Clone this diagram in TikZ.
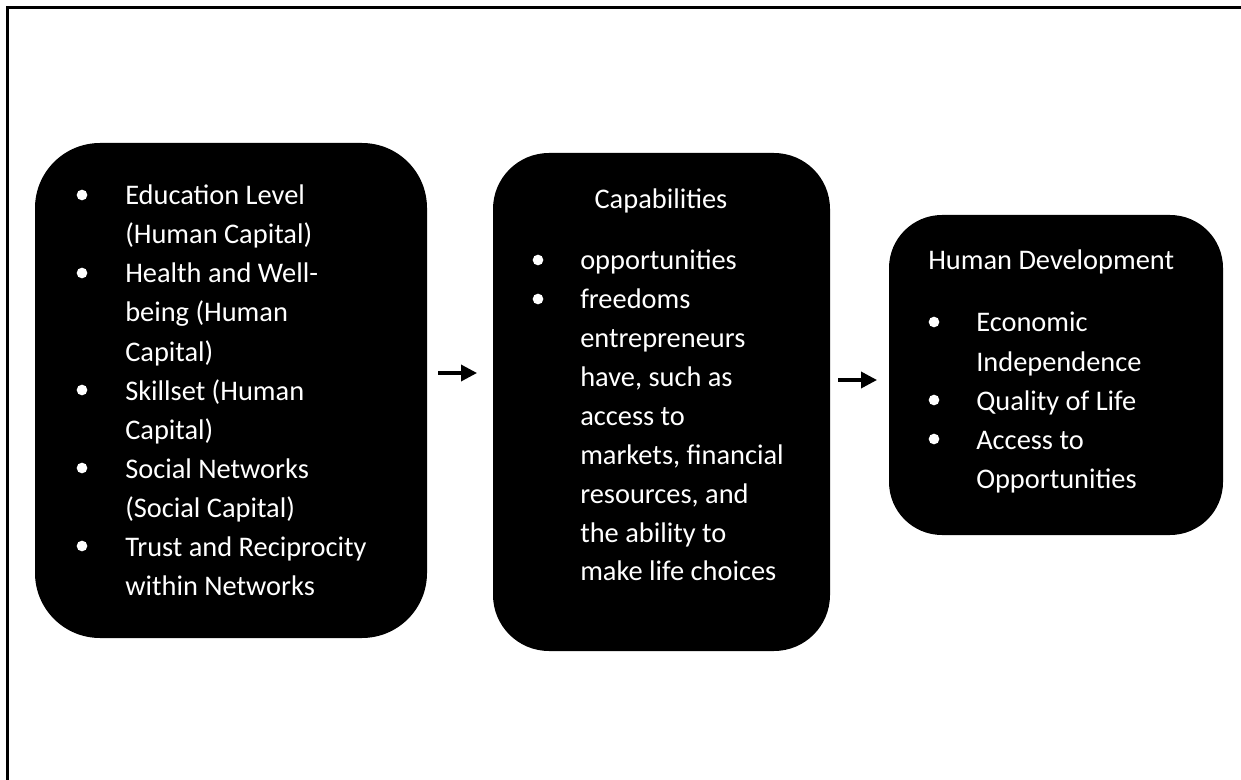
\documentclass[tikz,border=0pt]{standalone}
\usepackage{fontspec}
\setmainfont{Carlito}
\usetikzlibrary{arrows.meta}
\begin{document}
\begin{tikzpicture}[x=0.75pt,y=-0.75pt,
  box/.style={rectangle, fill=black, draw=none, inner sep=0pt},
  txt/.style={anchor=base west, inner sep=0pt, text=white, font=\fontsize{21.3}{25}\selectfont},
  ttl/.style={anchor=base, inner sep=0pt, text=white, font=\fontsize{21.3}{25}\selectfont},
  dot/.style={circle, fill=white, draw=none, inner sep=0pt, minimum size=8pt},
  conn/.style={line width=2.6pt, -{Triangle[length=12pt,width=12pt]}},
  frame/.style={line width=1.6pt}]
\useasboundingbox (0,0) rectangle (1241,780);
% frame
\coordinate (fTR) at (1241,7.5);
\coordinate (fTL) at (7.5,7.5);
\coordinate (fBL) at (7.5,780);
\draw[frame] (fTR) -- (fTL) -- (fBL);

% boxes
\node[box, rounded corners=48.75pt, minimum width=294pt, minimum height=371.25pt] (b1) at (231,390.5) {};
\node[box, rounded corners=42pt, minimum width=252.75pt, minimum height=373.5pt] (b2) at (661.5,402) {};
\node[box, rounded corners=39.75pt, minimum width=250.5pt, minimum height=240pt] (b3) at (1056,375) {};

% box 1 text
\foreach \t/\y [count=\i] in {Education Level/205, (Human Capital)/244, Health and Well-/283, being (Human/322, Capital)/361, Skillset (Human/400, Capital)/439, Social Networks/478, (Social Capital)/517, Trust and Reciprocity/556, within Networks/595}
  \node[txt] (t1-\i) at (125,\y) {\t};
\foreach \y [count=\i] in {205,283,400,478,556}
  \node[dot] (d1-\i) at (82,\y-10) {};

% box 2 text
\node[ttl] (cap) at (661,209) {Capabilities};
\foreach \t/\y [count=\i] in {opportunities/270, freedoms/309, entrepreneurs/348, {have, such as}/386, access to/425, {markets, financial}/464, {resources, and}/503, the ability to/542, make life choices/580}
  \node[txt] (t2-\i) at (580,\y) {\t};
\foreach \y [count=\i] in {270,309}
  \node[dot] (d2-\i) at (538,\y-10) {};

% box 3 text
\node[txt] (hd) at (928,270) {Human Development};
\foreach \t/\y [count=\i] in {Economic/332, Independence/371, Quality of Life/410, Access to/449, Opportunities/488}
  \node[txt] (t3-\i) at (976,\y) {\t};
\foreach \y [count=\i] in {332,410,449}
  \node[dot] (d3-\i) at (934,\y-10) {};

% arrows
\coordinate (a1s) at (438,373);
\coordinate (a1e) at (477,373);
\coordinate (a2s) at (838,380);
\coordinate (a2e) at (877,380);
\draw[conn] (a1s) -- (a1e);
\draw[conn] (a2s) -- (a2e);
\end{tikzpicture}
\end{document}
